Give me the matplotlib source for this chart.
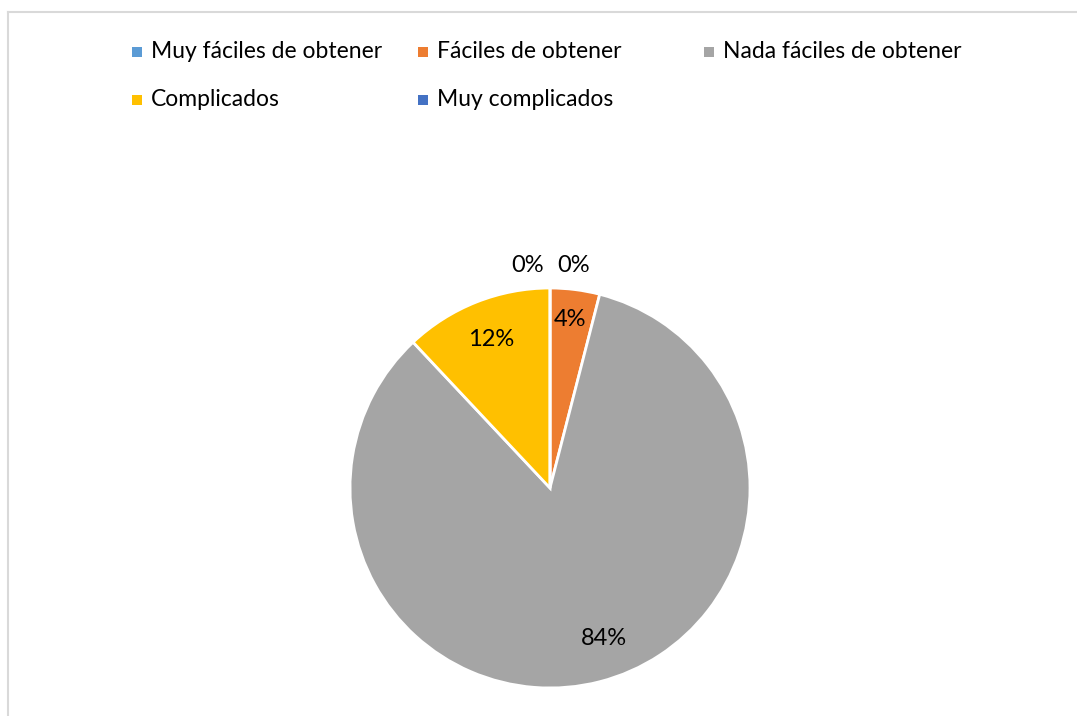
import matplotlib
matplotlib.use("Agg")
from matplotlib import pyplot as plt
from matplotlib.patches import Rectangle
from matplotlib.lines import Line2D
import numpy as np

plt.rcParams['font.family'] = ['Lato', 'DejaVu Sans']

categorias = ['Muy fáciles de obtener', 'Fáciles de obtener', 'Nada fáciles de obtener',
              'Complicados', 'Muy complicados']
valores = [0, 4, 84, 12, 0]
etiquetas = ['0%', '4%', '84%', '12%', '0%']
colores = ['#5B9BD5', '#ED7D31', '#A5A5A5', '#FFC000', '#4472C4']

W, H = 1077, 716
fig = plt.figure(figsize=(W / 100, H / 100), dpi=100)

# chart frame (only top and left edges are visible in the original)
fig.add_artist(Line2D([8 / W, 8 / W], [0, 1 - 12 / H], color='#d9d9d9', lw=1.5))
fig.add_artist(Line2D([8 / W, 1], [1 - 12 / H, 1 - 12 / H], color='#d9d9d9', lw=1.5))

# pie axes: centre (550, 488) px, radius 200 px
ax = fig.add_axes([350 / W, 1 - 688 / H, 400 / W, 400 / H])
wedges, _ = ax.pie(valores, colors=colores, startangle=90, counterclock=False,
                   radius=1, wedgeprops=dict(edgecolor='white', linewidth=2))
ax.set_xlim(-1, 1)
ax.set_ylim(-1, 1)
ax.set_aspect('equal')
ax.axis('off')

# percentage labels
for i, (w, txt) in enumerate(zip(wedges, etiquetas)):
    ang = np.deg2rad((w.theta1 + w.theta2) / 2)
    if valores[i] == 0:
        dx = 0.12 if i == 0 else -0.11
        x, y = dx, 1.11
    else:
        d = 0.8
        x, y = d * np.cos(ang), d * np.sin(ang)
        if i == 2:
            x += 0.07
            y += 0.02
        if i == 1:
            y += 0.05
    ax.text(x, y, txt, ha='center', va='center', fontsize=17, color='#000000',
            clip_on=False)

# legend, laid out in rows of three like the original
for i, nombre in enumerate(categorias):
    fila, col = i // 3, i % 3
    cx = 137 + 286 * col
    cy = 52 + 48 * fila
    fig.add_artist(Rectangle(((cx - 5) / W, 1 - (cy + 5) / H), 10 / W, 10 / H,
                             transform=fig.transFigure, color=colores[i], lw=0))
    fig.text((cx + 14) / W, 1 - cy / H, nombre, ha='left', va='center',
             fontsize=16.5, color='#000000')

plt.savefig('out.png', dpi=100)
